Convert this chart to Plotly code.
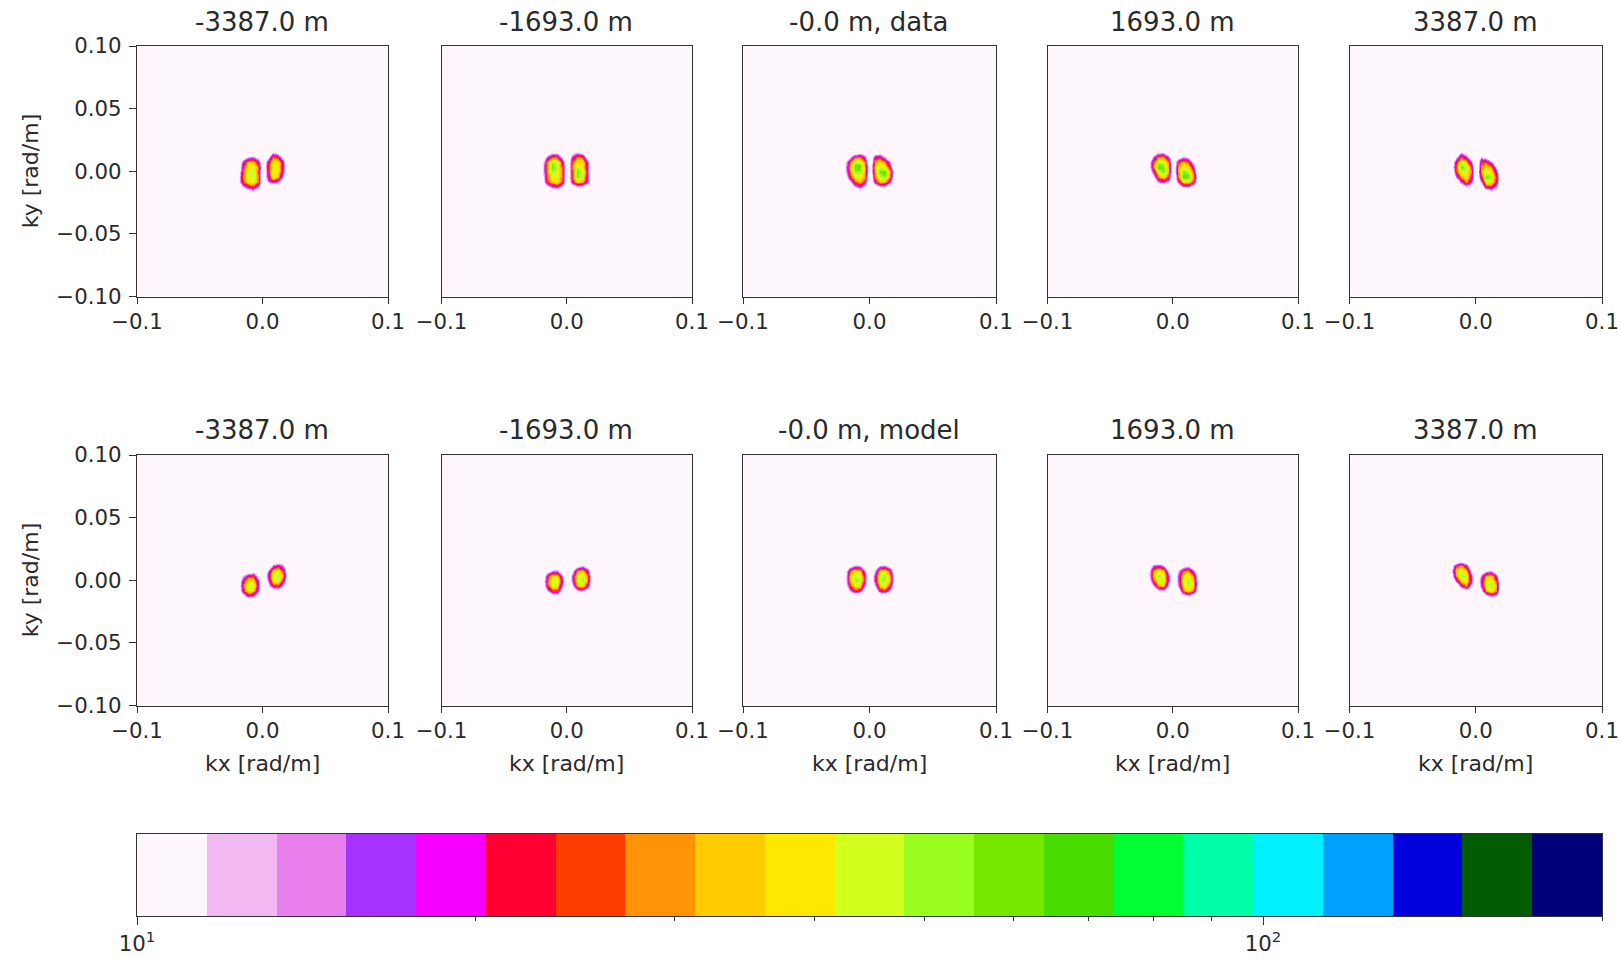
import numpy as np
import plotly.graph_objects as go

W, H = 1621, 959

KX = [-0.020, -0.016, -0.012, -0.008, -0.004, 0.0, 0.004, 0.008, 0.012, 0.016, 0.020]
KY = [0.016, 0.012, 0.008, 0.004, 0.0, -0.004, -0.008, -0.012, -0.016]
KY_LABEL_VALUES = [0.10, 0.05, 0.0, -0.05, -0.10]
KY_LABELS = ["0.10", "0.05", "0.00", "\u22120.05", "\u22120.10"]
KX_LABEL_VALUES = [-0.1, 0.0, 0.1]
KX_LABELS = ["\u22120.1", "0.0", "0.1"]

DATA_TITLES = ["-3387.0 m", "-1693.0 m", "-0.0 m, data", "1693.0 m", "3387.0 m"]
MODEL_TITLES = ["-3387.0 m", "-1693.0 m", "-0.0 m, model", "1693.0 m", "3387.0 m"]

# Spectral level around the origin, rows from ky = +0.016 down to -0.016
DATA_M3387 = [
    [5, 5, 5, 5, 5, 5, 5, 11, 8, 5, 5],
    [5, 7, 12, 14, 9, 5, 10, 28, 22, 9, 5],
    [5, 18, 32, 34, 20, 6, 20, 40, 38, 18, 5],
    [6, 24, 40, 44, 28, 7, 22, 44, 40, 20, 5],
    [7, 26, 44, 48, 26, 6, 20, 46, 38, 17, 5],
    [9, 28, 44, 48, 28, 6, 20, 42, 32, 13, 5],
    [9, 26, 38, 42, 28, 6, 13, 20, 15, 6, 5],
    [5, 12, 20, 24, 14, 5, 5, 5, 5, 5, 5],
    [5, 5, 7, 10, 6, 5, 5, 5, 5, 5, 5],
]
DATA_M1693 = [
    [5, 6, 9, 9, 5, 5, 8, 11, 8, 5, 5],
    [6, 16, 26, 24, 10, 5, 18, 28, 26, 8, 5],
    [9, 30, 52, 44, 22, 5, 26, 40, 38, 18, 5],
    [10, 32, 62, 46, 24, 6, 28, 46, 40, 20, 5],
    [10, 30, 50, 44, 26, 6, 26, 60, 46, 20, 5],
    [9, 28, 42, 42, 26, 6, 26, 56, 42, 20, 5],
    [8, 24, 36, 38, 24, 5, 22, 36, 32, 18, 5],
    [5, 10, 16, 18, 11, 5, 7, 12, 10, 6, 5],
    [5, 5, 5, 5, 5, 5, 5, 5, 5, 5, 5],
]
DATA_0 = [
    [5, 5, 6, 8, 7, 5, 6, 8, 5, 5, 5],
    [6, 10, 24, 28, 16, 5, 20, 22, 12, 6, 5],
    [9, 26, 48, 48, 28, 5, 30, 38, 28, 14, 5],
    [11, 30, 62, 64, 32, 6, 34, 46, 40, 22, 5],
    [10, 28, 52, 52, 32, 6, 32, 60, 66, 32, 8],
    [7, 22, 40, 40, 30, 5, 28, 46, 54, 28, 7],
    [5, 11, 26, 32, 24, 5, 20, 34, 32, 18, 5],
    [5, 5, 12, 18, 10, 5, 6, 12, 12, 6, 5],
    [5, 5, 5, 5, 5, 5, 5, 5, 5, 5, 5],
]
DATA_P1693 = [
    [5, 6, 10, 10, 6, 5, 5, 5, 5, 5, 5],
    [5, 14, 28, 30, 16, 5, 8, 13, 10, 5, 5],
    [7, 26, 48, 44, 28, 6, 24, 32, 26, 10, 5],
    [8, 28, 66, 58, 32, 6, 32, 42, 36, 18, 5],
    [6, 18, 44, 56, 32, 6, 32, 58, 50, 26, 6],
    [5, 10, 30, 38, 24, 5, 28, 66, 60, 30, 7],
    [5, 6, 14, 18, 12, 5, 18, 38, 38, 24, 6],
    [5, 5, 5, 5, 5, 5, 7, 14, 14, 8, 5],
    [5, 5, 5, 5, 5, 5, 5, 5, 5, 5, 5],
]
DATA_P3387 = [
    [5, 6, 11, 8, 5, 5, 5, 5, 5, 5, 5],
    [5, 10, 26, 18, 8, 5, 12, 9, 5, 5, 5],
    [6, 22, 46, 32, 16, 5, 24, 26, 14, 6, 5],
    [7, 26, 62, 48, 26, 5, 28, 36, 30, 12, 5],
    [5, 24, 44, 44, 28, 6, 30, 46, 38, 20, 5],
    [5, 14, 32, 38, 24, 6, 22, 60, 50, 24, 6],
    [5, 7, 16, 30, 18, 5, 14, 42, 40, 22, 6],
    [5, 5, 7, 11, 8, 5, 7, 22, 22, 14, 5],
    [5, 5, 5, 5, 5, 5, 5, 6, 10, 6, 5],
]
MODEL_M3387 = [
    [5, 5, 5, 5, 5, 5, 5, 5, 6, 8, 5],
    [5, 5, 5, 5, 5, 5, 5, 16, 22, 14, 5],
    [5, 5, 6, 8, 5, 5, 14, 38, 42, 24, 7],
    [5, 12, 22, 24, 10, 5, 18, 44, 50, 30, 8],
    [6, 22, 38, 40, 18, 5, 14, 40, 44, 22, 6],
    [7, 26, 46, 46, 20, 5, 10, 22, 24, 12, 5],
    [6, 22, 40, 36, 16, 5, 5, 7, 8, 5, 5],
    [5, 9, 18, 16, 8, 5, 5, 5, 5, 5, 5],
    [5, 5, 5, 5, 5, 5, 5, 5, 5, 5, 5],
]
MODEL_M1693 = [
    [5, 5, 5, 5, 5, 5, 5, 5, 5, 5, 5],
    [5, 5, 5, 6, 5, 5, 5, 9, 13, 8, 5],
    [5, 8, 14, 14, 7, 5, 10, 30, 36, 20, 6],
    [6, 22, 38, 36, 14, 5, 16, 42, 48, 28, 7],
    [7, 26, 48, 46, 18, 5, 16, 44, 50, 30, 7],
    [6, 24, 42, 38, 14, 5, 11, 32, 38, 20, 6],
    [5, 12, 24, 24, 9, 5, 5, 12, 14, 8, 5],
    [5, 5, 8, 9, 5, 5, 5, 5, 5, 5, 5],
    [5, 5, 5, 5, 5, 5, 5, 5, 5, 5, 5],
]
MODEL_0 = [
    [5, 5, 5, 5, 5, 5, 5, 5, 5, 5, 5],
    [5, 9, 14, 13, 6, 5, 6, 13, 14, 9, 5],
    [7, 26, 40, 36, 14, 5, 12, 36, 40, 24, 7],
    [8, 32, 48, 46, 20, 5, 18, 46, 50, 32, 8],
    [8, 32, 50, 48, 20, 5, 18, 48, 50, 32, 8],
    [7, 24, 38, 36, 14, 5, 12, 36, 40, 24, 7],
    [5, 12, 24, 20, 8, 5, 6, 20, 24, 12, 5],
    [5, 5, 5, 5, 5, 5, 5, 5, 5, 5, 5],
    [5, 5, 5, 5, 5, 5, 5, 5, 5, 5, 5],
]
MODEL_P1693 = [
    [5, 5, 5, 5, 5, 5, 5, 5, 5, 5, 5],
    [6, 16, 20, 14, 5, 5, 5, 9, 11, 6, 5],
    [9, 30, 42, 36, 12, 5, 12, 28, 30, 16, 6],
    [9, 34, 50, 44, 18, 5, 16, 40, 44, 28, 8],
    [7, 24, 44, 46, 18, 5, 16, 42, 50, 34, 9],
    [5, 12, 30, 34, 12, 5, 14, 38, 50, 36, 9],
    [5, 5, 10, 12, 6, 5, 8, 28, 38, 26, 7],
    [5, 5, 5, 5, 5, 5, 5, 9, 12, 8, 5],
    [5, 5, 5, 5, 5, 5, 5, 5, 5, 5, 5],
]
MODEL_P3387 = [
    [5, 6, 9, 7, 5, 5, 5, 5, 5, 5, 5],
    [8, 24, 30, 20, 7, 5, 5, 5, 5, 5, 5],
    [10, 36, 46, 36, 12, 5, 6, 11, 13, 7, 5],
    [8, 30, 50, 44, 18, 5, 14, 32, 36, 18, 5],
    [5, 16, 38, 42, 20, 5, 18, 42, 44, 26, 6],
    [5, 6, 18, 30, 12, 5, 16, 42, 50, 32, 7],
    [5, 5, 5, 9, 6, 5, 10, 30, 42, 28, 6],
    [5, 5, 5, 5, 5, 5, 5, 10, 15, 12, 5],
    [5, 5, 5, 5, 5, 5, 5, 5, 5, 5, 5],
]

LEVELS = [10, 11.533, 13.302, 15.341, 17.693, 20.406, 23.535, 27.143, 31.305, 36.105, 41.641,
          48.026, 55.390, 63.883, 73.679, 84.975, 98.005, 113.03, 130.36, 150.35, 173.41, 200]
LEVEL_COLORS = ["#fdf6fd", "#f2b8f2", "#e97fec", "#a632ff", "#f500ff", "#ff0033", "#ff3c00",
                "#ff9408", "#ffcc00", "#ffe800", "#d2ff1e", "#9aff1e", "#76e800", "#48dc00",
                "#00ff32", "#00ffa8", "#00f0ff", "#00a0ff", "#0000dc", "#005c00", "#000078"]
CB_MAJOR = [10, 100]
CB_MAJOR_TEXT = ["10<sup>1</sup>", "10<sup>2</sup>"]
CB_MINOR = [20, 30, 40, 50, 60, 70, 80, 90, 200]

ROWS = [[DATA_M3387, DATA_M1693, DATA_0, DATA_P1693, DATA_P3387],
        [MODEL_M3387, MODEL_M1693, MODEL_0, MODEL_P1693, MODEL_P3387]]
TITLES = [DATA_TITLES, MODEL_TITLES]

# layout, in page pixels
COL_EDGES = [(137, 388), (441.5, 692), (743, 996), (1047.5, 1298), (1349.5, 1602)]
ROW_EDGES = [(46, 296.5), (455, 705.5)]
CB_EDGES = (834, 916)
TEXT = "#2a2a2a"
LINE = "#333333"
TICK_FS = 21.3
TITLE_FS = 26
LABEL_FS = 22

n = len(LEVEL_COLORS)
zmin, zmax = np.log10(LEVELS[0]), np.log10(LEVELS[-1])
scale = []
for i, c in enumerate(LEVEL_COLORS):
    scale.append([i / n, c])
    scale.append([(i + 1) / n, c])


def fx(p):
    return p / W


def fy(p):
    return 1 - p / H


fig = go.Figure()
annotations = []
layout = {}
idx = 0
for r, (top, bot) in enumerate(ROW_EDGES):
    for c, (left, right) in enumerate(COL_EDGES):
        idx += 1
        fig.add_trace(go.Heatmap(
            x=KX, y=KY, z=np.log10(np.array(ROWS[r][c], dtype=float)),
            zmin=zmin, zmax=zmax, colorscale=scale, showscale=False,
            zsmooth="best", hoverinfo="skip", xaxis=f"x{idx}", yaxis=f"y{idx}"))
        layout[f"xaxis{idx}"] = dict(
            domain=[fx(left), fx(right)], range=[-0.1, 0.1], anchor=f"y{idx}", automargin=False,
            tickmode="array", tickvals=KX_LABEL_VALUES, ticktext=KX_LABELS,
            ticks="outside", ticklen=6, tickwidth=1.2, tickcolor=LINE,
            showline=True, mirror=True, linecolor=LINE, linewidth=1.2,
            showgrid=False, zeroline=False,
            tickfont=dict(family="DejaVu Sans", size=TICK_FS, color=TEXT))
        yaxis = dict(
            domain=[fy(bot), fy(top)], range=[-0.1, 0.1], anchor=f"x{idx}", automargin=False,
            showline=True, mirror=True, linecolor=LINE, linewidth=1.2,
            showgrid=False, zeroline=False)
        if c == 0:
            yaxis.update(
                tickmode="array", tickvals=KY_LABEL_VALUES, ticktext=KY_LABELS,
                ticks="outside", ticklen=7, tickwidth=1.2, tickcolor=LINE, ticklabelstandoff=3,
                tickfont=dict(family="DejaVu Sans", size=TICK_FS, color=TEXT))
        else:
            yaxis.update(showticklabels=False, ticks="")
        layout[f"yaxis{idx}"] = yaxis
        annotations.append(dict(
            text=TITLES[r][c], x=fx((left + right) / 2 - 0.5), y=fy(top - 24.5),
            xref="paper", yref="paper", showarrow=False, xanchor="center", yanchor="middle",
            font=dict(family="DejaVu Sans", size=TITLE_FS, color=TEXT)))
        if r == 1:
            annotations.append(dict(
                text="kx [rad/m]", x=fx((left + right) / 2), y=fy(763),
                xref="paper", yref="paper", showarrow=False, xanchor="center", yanchor="middle",
                font=dict(family="DejaVu Sans", size=LABEL_FS, color=TEXT)))
        if c == 0:
            annotations.append(dict(
                text="ky [rad/m]", x=fx(30), y=fy((top + bot) / 2), textangle=-90,
                xref="paper", yref="paper", showarrow=False, xanchor="center", yanchor="middle",
                font=dict(family="DejaVu Sans", size=LABEL_FS, color=TEXT)))

# colour bar drawn as one more heat map on a log axis
centres = np.sqrt(np.array(LEVELS[:-1]) * np.array(LEVELS[1:]))
fig.add_trace(go.Heatmap(
    x=LEVELS, y=[0, 1], z=[np.log10(centres).tolist()],
    zmin=zmin, zmax=zmax, colorscale=scale, showscale=False,
    hoverinfo="skip", xaxis="x11", yaxis="y11"))
layout["xaxis11"] = dict(
    domain=[fx(COL_EDGES[0][0]), fx(COL_EDGES[-1][1])], type="log", range=[zmin, zmax],
    anchor="y11", automargin=False, tickmode="array", tickvals=CB_MAJOR, ticktext=CB_MAJOR_TEXT,
    ticks="outside", ticklen=8, tickwidth=1.2, tickcolor=LINE,
    minor=dict(tickmode="array", tickvals=CB_MINOR, ticks="outside", ticklen=4,
               tickwidth=1, tickcolor=LINE, showgrid=False),
    showline=True, mirror=True, linecolor=LINE, linewidth=1.2,
    showgrid=False, zeroline=False,
    tickfont=dict(family="DejaVu Sans", size=TICK_FS, color=TEXT))
layout["yaxis11"] = dict(
    domain=[fy(CB_EDGES[1]), fy(CB_EDGES[0])], range=[0, 1], anchor="x11", automargin=False,
    showticklabels=False, ticks="", showline=True, mirror=True,
    linecolor=LINE, linewidth=1.2, showgrid=False, zeroline=False)

fig.update_layout(
    width=W, height=H, margin=dict(l=0, r=0, t=0, b=0, pad=0),
    paper_bgcolor="white", plot_bgcolor=LEVEL_COLORS[0],
    showlegend=False, annotations=annotations, **layout)

fig.write_html("out.html", config={"displayModeBar": False},
               post_script="document.body.style.margin='0';")
